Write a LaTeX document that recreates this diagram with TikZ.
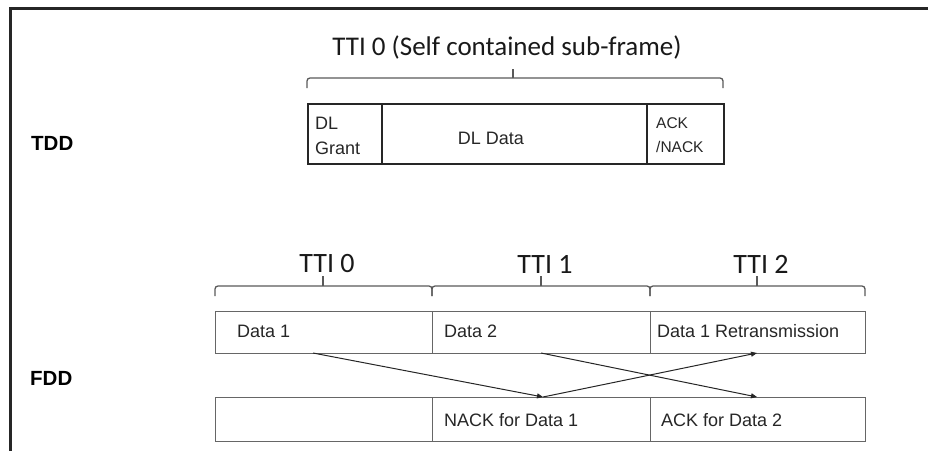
\documentclass[tikz,border=0pt]{standalone}
\usepackage{fontspec}
\setmainfont{Carlito}
\newfontfamily\cellfont{Liberation Sans}
\usetikzlibrary{arrows.meta}
\begin{document}
\begin{tikzpicture}[x=1pt,y=-1pt,
  frameline/.style={line width=3pt,draw=black!85},
  tddbox/.style={draw=black!85,line width=1.6pt,inner sep=0pt,anchor=north west},
  fddbox/.style={draw=black!60,line width=1.2pt,inner sep=0pt,anchor=north west},
  bracel/.style={draw=black!65,line width=1.3pt,rounded corners=3pt},
  title/.style={font=\fontsize{27}{30}\selectfont,inner sep=0pt,text=black!90},
  ttilabel/.style={font=\fontsize{28}{30}\selectfont,inner sep=0pt,text=black!90},
  celltext/.style={font=\cellfont\fontsize{18}{22}\selectfont,inner sep=0pt,anchor=west,text=black!85},
  sidelabel/.style={font=\cellfont\bfseries\fontsize{20.5}{24}\selectfont,inner sep=0pt,anchor=west},
  arr/.style={draw=black!85,line width=1pt,-{Triangle[length=6pt,width=5pt]}}
]
\useasboundingbox (0,0) rectangle (928,450);
% frame
\draw[frameline] (10,451) -- (10,8) -- (929,8);

% TDD
\node[sidelabel] (tdd) at (31,143) {TDD};
\node[title] (t0title) at (507,47) {TTI 0 (Self contained sub-frame)};
\draw[bracel] (307,88) -- (307,78) -- (723,78) -- (723,88);
\coordinate (tb) at (513,78);
\draw[bracel] (tb) -- (513,69);

\node[tddbox,minimum width=74pt,minimum height=60pt] (grant) at (307,103) {};
\node[tddbox,minimum width=265pt,minimum height=60pt] (dldata) at (381,103) {};
\node[tddbox,minimum width=77pt,minimum height=60pt] (acknack) at (646,103) {};
\node[celltext,align=left,font=\cellfont\fontsize{18}{25}\selectfont] (grantt) at (315,136) {DL\\Grant};
\node[celltext,anchor=center] (dldatat) at (491,138) {DL Data};
\node[celltext,align=left,font=\cellfont\fontsize{15.5}{24}\selectfont] (ackt) at (656,135) {ACK\\/NACK};

% FDD
\node[sidelabel] (fdd) at (30,378) {FDD};
\foreach \n/\a/\b/\m/\t in {b0/215/432/323/TTI 0, b1/432/650/541/TTI 1, b2/650/865/757/TTI 2}{
  \draw[bracel] (\a,296) -- (\a,286) -- (\b,286) -- (\b,296);
  \coordinate (\n) at (\m,286);
  \draw[bracel] (\n) -- (\m,276);
  \node[ttilabel] (\n t) at (\m+4,264) {\t};
}

\node[fddbox,minimum width=217pt,minimum height=42pt] (d1) at (215,311) {};
\node[fddbox,minimum width=218pt,minimum height=42pt] (d2) at (432,311) {};
\node[fddbox,minimum width=215pt,minimum height=42pt] (d3) at (650,311) {};
\node[fddbox,minimum width=217pt,minimum height=44pt] (a1) at (215,397) {};
\node[fddbox,minimum width=218pt,minimum height=44pt] (a2) at (432,397) {};
\node[fddbox,minimum width=215pt,minimum height=44pt] (a3) at (650,397) {};

\node[celltext] (d1t) at (237,331) {Data 1};
\node[celltext] (d2t) at (444,331) {Data 2};
\node[celltext] (d3t) at (657,331) {Data 1 Retransmission};
\node[celltext] (a2t) at (444,420) {NACK for Data 1};
\node[celltext] (a3t) at (661,420) {ACK for Data 2};

\coordinate (s1) at (313,353);
\coordinate (e1) at (543,397);
\coordinate (s2) at (541,353);
\coordinate (e2) at (757,397);
\coordinate (e3) at (757,353);
\draw[arr] (s1) -- (e1);
\draw[arr] (e1) -- (e3);
\draw[arr] (s2) -- (e2);
\end{tikzpicture}
\end{document}
